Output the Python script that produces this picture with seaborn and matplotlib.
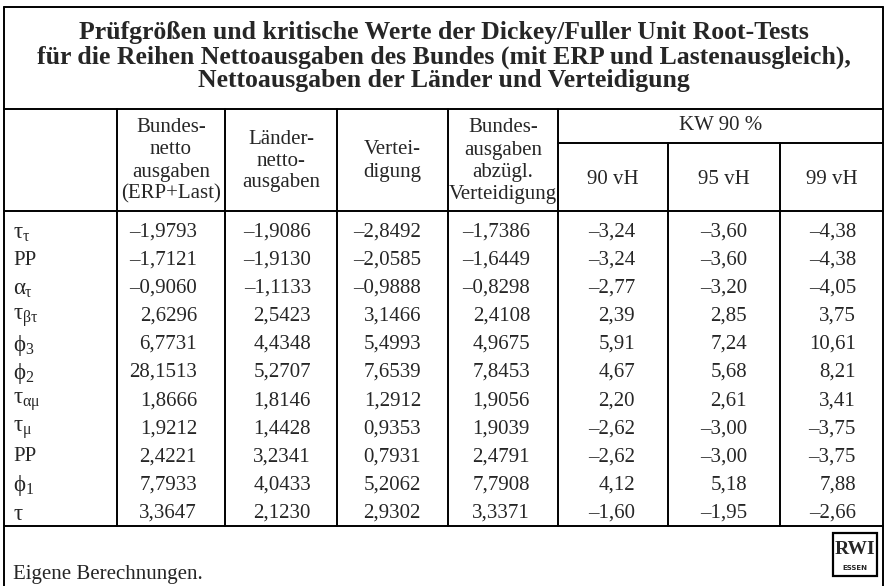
import numpy as np
import pandas as pd
import matplotlib.pyplot as plt
import seaborn as sns

# Daten der Tabelle
titel = [
    "Prüfgrößen und kritische Werte der Dickey/Fuller Unit Root-Tests",
    "für die Reihen Nettoausgaben des Bundes (mit ERP und Lastenausgleich),",
    "Nettoausgaben der Länder und Verteidigung",
]
zeilen = [r"$τ_τ$", "PP", r"$α_τ$", r"$τ_{βτ}$", r"$ϕ_3$",
          r"$ϕ_2$", r"$τ_{αμ}$", r"$τ_μ$", "PP", r"$ϕ_1$", r"$τ$"]
kopf = [
    ["Bundes-", "netto", "ausgaben", "(ERP+Last)"],
    ["Länder-", "netto-", "ausgaben"],
    ["Vertei-", "digung"],
    ["Bundes-", "ausgaben", "abzügl.", "Verteidigung"],
]
kw_titel = "KW 90 %"
kw_spalten = ["90 vH", "95 vH", "99 vH"]

bund = [-1.9793, -1.7121, -0.9060, 2.6296, 6.7731, 28.1513, 1.8666, 1.9212, 2.4221, 7.7933, 3.3647]
laender = [-1.9086, -1.9130, -1.1133, 2.5423, 4.4348, 5.2707, 1.8146, 1.4428, 3.2341, 4.0433, 2.1230]
verteidigung = [-2.8492, -2.0585, -0.9888, 3.1466, 5.4993, 7.6539, 1.2912, 0.9353, 0.7931, 5.2062, 2.9302]
bund_ohne_vert = [-1.7386, -1.6449, -0.8298, 2.4108, 4.9675, 7.8453, 1.9056, 1.9039, 2.4791, 7.7908, 3.3371]
kw90 = [-3.24, -3.24, -2.77, 2.39, 5.91, 4.67, 2.20, -2.62, -2.62, 4.12, -1.60]
kw95 = [-3.60, -3.60, -3.20, 2.85, 7.24, 5.68, 2.61, -3.00, -3.00, 5.18, -1.95]
kw99 = [-4.38, -4.38, -4.05, 3.75, 10.61, 8.21, 3.41, -3.75, -3.75, 7.88, -2.66]

df = pd.DataFrame({"bund": bund, "laender": laender, "vert": verteidigung,
                   "ohne": bund_ohne_vert, "kw90": kw90, "kw95": kw95, "kw99": kw99})
stellen = [4, 4, 4, 4, 2, 2, 2]


def deutsch(v, n):
    s = f"{abs(v):.{n}f}".replace(".", ",")
    return ("\u2013" + s) if v < 0 else s


sns.set_theme(style="white")
plt.rcParams["font.family"] = ["Liberation Serif", "DejaVu Serif"]
# griechische Buchstaben aufrecht wie im Original
plt.rcParams["mathtext.fontset"] = "custom"
plt.rcParams["mathtext.rm"] = "Liberation Serif"
plt.rcParams["mathtext.it"] = "Liberation Serif"
plt.rcParams["mathtext.bf"] = "Liberation Serif:bold"
plt.rcParams["mathtext.fallback"] = "stix"

fig = plt.figure(figsize=(8.84, 5.86), dpi=100)
ax = fig.add_axes([0, 0, 1, 1])
ax.set_xlim(0, 884)
ax.set_ylim(586, 0)
ax.axis("off")

# Layout (Pixel)
kanten = [4, 117, 225, 337, 448, 558, 668, 780, 883]
y_top, y_titel, y_kw, y_kopf, y_unten = 7, 109, 143, 211, 526
y0, dy = 232, 28.1
lw = 1.4
fs = 15

ax.plot([kanten[0], kanten[-1]], [y_top, y_top], color="black", lw=lw)
for y in [y_titel, y_kopf, y_unten]:
    ax.plot([kanten[0], kanten[-1]], [y, y], color="black", lw=lw)
ax.plot([kanten[5], kanten[-1]], [y_kw, y_kw], color="black", lw=lw)
ax.plot([kanten[0], kanten[0]], [y_top, 586], color="black", lw=lw)
ax.plot([kanten[-1], kanten[-1]], [y_top, 586], color="black", lw=lw)
for x in kanten[1:6]:
    ax.plot([x, x], [y_titel, y_unten], color="black", lw=lw)
for x in kanten[6:8]:
    ax.plot([x, x], [y_kw, y_unten], color="black", lw=lw)

# Titel
for i, t in enumerate(titel):
    ax.text(444, 33 + 24 * i, t, ha="center", va="center", fontsize=18.5,
            fontweight="bold")

# Kopfzeilen
for j, zeilen_kopf in enumerate(kopf):
    xc = (kanten[j + 1] + kanten[j + 2]) / 2
    n = len(zeilen_kopf)
    ym = (y_titel + y_kopf) / 2 + 1
    for k, t in enumerate(zeilen_kopf):
        ax.text(xc, ym + (k - (n - 1) / 2) * 22, t, ha="center", va="center", fontsize=fs)
ax.text((kanten[5] + kanten[-1]) / 2, (y_titel + y_kw) / 2, kw_titel,
        ha="center", va="center", fontsize=fs)
for j, t in enumerate(kw_spalten):
    xc = (kanten[5 + j] + kanten[6 + j]) / 2
    ax.text(xc, (y_kw + y_kopf) / 2 + 2, t, ha="center", va="center", fontsize=fs)

# Tabellenkörper
pads = [28, 26, 27, 28, 33, 33, 27]
for i, lab in enumerate(zeilen):
    y = y0 + i * dy
    if lab.startswith("$"):
        ax.text(13, y + 1, lab, ha="left", va="center", fontsize=16.5)
    else:
        ax.text(13, y, lab, ha="left", va="center", fontsize=fs)
    for j, col in enumerate(df.columns):
        xr = kanten[j + 2] - pads[j]
        ax.text(xr, y, deutsch(df[col].iloc[i], stellen[j]), ha="right",
                va="center", fontsize=fs)

# Fußzeile
ax.text(13, 579, "Eigene Berechnungen.", ha="left", va="baseline", fontsize=fs)
ax.add_patch(plt.Rectangle((833, 533), 44, 43, fill=False, lw=1.6, color="black"))
ax.text(855, 549, "RWI", ha="center", va="center", fontsize=14, fontweight="bold")
ax.text(855, 568, "ESSEN", ha="center", va="center", fontsize=5, fontweight="bold",
        family=["DejaVu Sans"])

fig.savefig("out.png", dpi=100, facecolor="white")
